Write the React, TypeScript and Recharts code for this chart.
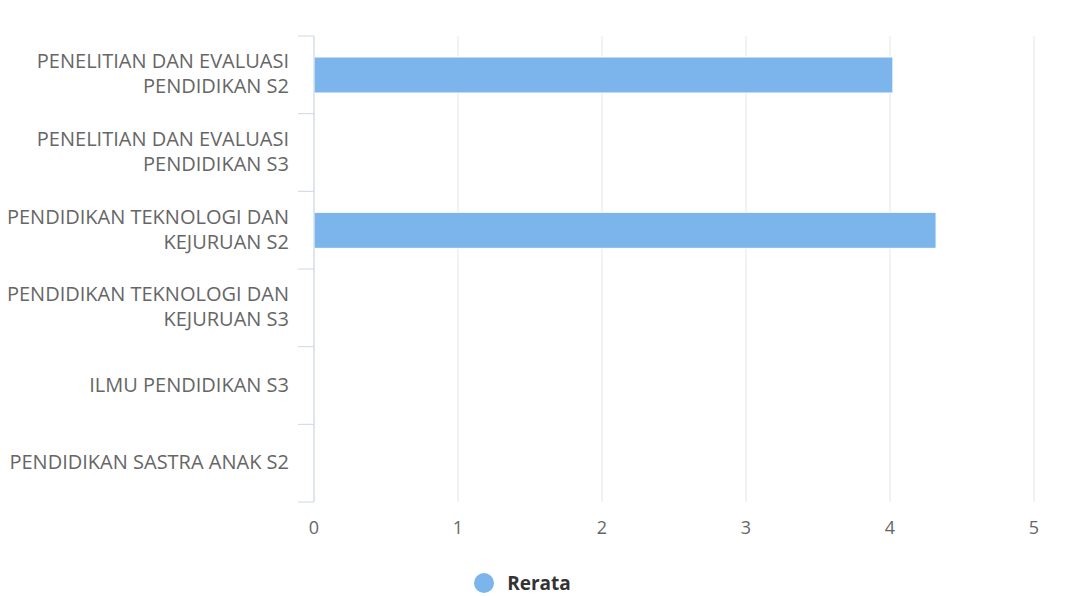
import React from 'react';
import { Bar, BarChart, CartesianGrid, XAxis, YAxis } from 'recharts';

const categories = [
  'PENELITIAN DAN EVALUASI PENDIDIKAN S2',
  'PENELITIAN DAN EVALUASI PENDIDIKAN S3',
  'PENDIDIKAN TEKNOLOGI DAN KEJURUAN S2',
  'PENDIDIKAN TEKNOLOGI DAN KEJURUAN S3',
  'ILMU PENDIDIKAN S3',
  'PENDIDIKAN SASTRA ANAK S2',
];
const rerata: (number | null)[] = [4.02, null, 4.32, null, null, null];
const xTicks = [0, 1, 2, 3, 4, 5];

const data = categories.map((name, i) => ({ name, rerata: rerata[i] }));

const W = 1089;
const H = 596;
const MARGIN = { top: 36, right: 55, left: 0, bottom: 54 };
const X_AXIS_H = 40;
const Y_AXIS_W = 314;
const PLOT_H = H - MARGIN.top - MARGIN.bottom - X_AXIS_H;
const BAND = PLOT_H / categories.length;
const TICK_LEN = 16;
const TICK_GAP = 9;

const FONT = "'Open Sans', 'DejaVu Sans', sans-serif";
const BAR_COLOR = '#7cb5ec';

// simple word wrap by characters
const wrap = (s: string, max: number) => {
  const lines: string[] = [];
  let cur = '';
  s.split(' ').forEach((w) => {
    if (cur && (cur + ' ' + w).length > max) {
      lines.push(cur);
      cur = w;
    } else {
      cur = cur ? cur + ' ' + w : w;
    }
  });
  if (cur) lines.push(cur);
  return lines;
};

const CategoryTick = ({ x, y, payload, index }: any) => {
  const lines = wrap(String(payload.value), 25);
  const lh = 25;
  const startY = y - 2 - ((lines.length - 1) * lh) / 2;
  const lx1 = x + TICK_GAP;
  const lx2 = x + TICK_GAP + TICK_LEN;
  return (
    <g>
      <line x1={lx1} x2={lx2} y1={y - BAND / 2} y2={y - BAND / 2} stroke="#ccd6eb" />
      {index === categories.length - 1 && (
        <line x1={lx1} x2={lx2} y1={y + BAND / 2} y2={y + BAND / 2} stroke="#ccd6eb" />
      )}
      <text
        x={x}
        y={startY}
        textAnchor="end"
        dominantBaseline="central"
        fill="#666666"
        style={{ fontSize: 20, fontFamily: FONT }}
      >
        {lines.map((l, i) => (
          <tspan key={i} x={x} y={startY + i * lh}>
            {l}
          </tspan>
        ))}
      </text>
    </g>
  );
};

export default function App() {
  return (
    <div style={{ position: 'absolute', left: 0, top: 0, width: W, height: H, fontFamily: FONT, background: '#fff' }}>
      <BarChart width={W} height={H} data={data} layout="vertical" margin={MARGIN}>
        <CartesianGrid horizontal={false} stroke="#e6e6e6" />
        <XAxis
          type="number"
          domain={[0, 5]}
          ticks={xTicks}
          axisLine={false}
          tickLine={false}
          tickSize={0}
          tickMargin={19}
          height={X_AXIS_H}
          tick={{ fill: '#666666', fontSize: 18, fontFamily: FONT }}
        />
        <YAxis
          type="category"
          dataKey="name"
          width={Y_AXIS_W}
          axisLine={{ stroke: '#ccd6eb' }}
          tickLine={false}
          tickSize={TICK_LEN}
          tickMargin={TICK_GAP}
          interval={0}
          tick={<CategoryTick />}
        />
        <Bar
          dataKey="rerata"
          fill={BAR_COLOR}
          stroke="#ffffff"
          strokeWidth={1}
          barSize={36}
          isAnimationActive={false}
        />
      </BarChart>
      <div
        style={{
          position: 'absolute',
          top: 572,
          left: 0,
          width: W,
          display: 'flex',
          justifyContent: 'center',
          paddingRight: 44,
          boxSizing: 'border-box',
          alignItems: 'center',
        }}
      >
        <span style={{ width: 20, height: 20, borderRadius: 10, background: BAR_COLOR, display: 'inline-block', marginRight: 13 }} />
        <span style={{ fontSize: 19, fontWeight: 700, color: '#333333', lineHeight: '22px' }}>Rerata</span>
      </div>
    </div>
  );
}
